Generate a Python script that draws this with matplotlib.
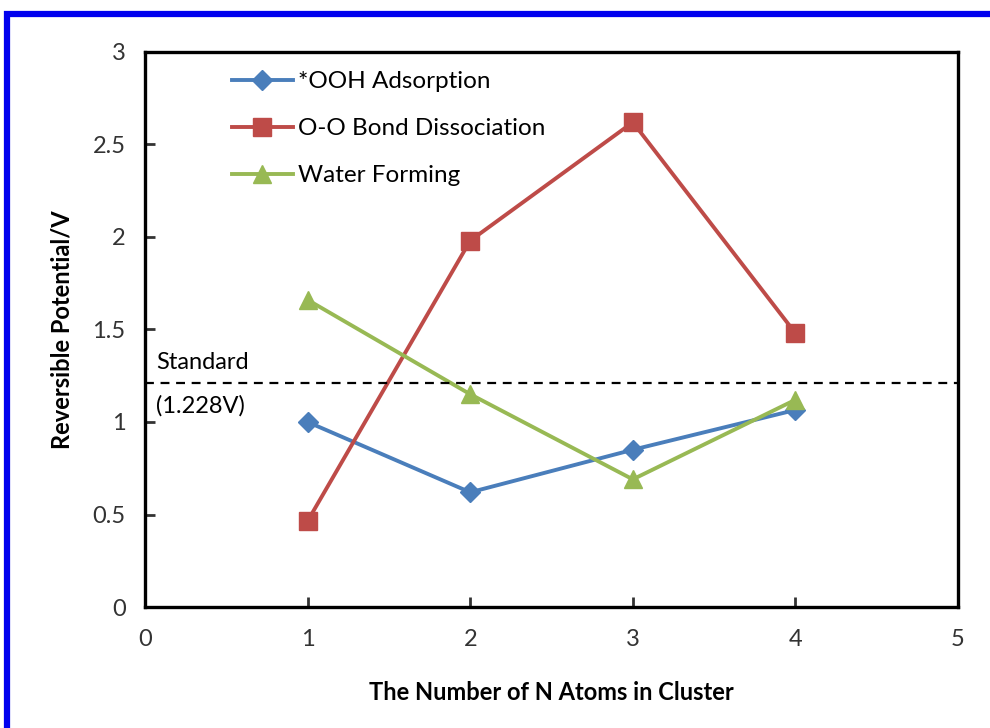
import matplotlib
matplotlib.use("Agg")
import matplotlib.pyplot as plt
from matplotlib.patches import Rectangle

plt.rcParams['font.family'] = ['Lato', 'DejaVu Sans']

n_atoms = [1, 2, 3, 4]
ooh = [1.0, 0.62, 0.85, 1.065]
oo_bond = [0.465, 1.98, 2.62, 1.48]
water = [1.66, 1.15, 0.69, 1.12]
standard = 1.21

fig = plt.figure(figsize=(9.9, 7.28), dpi=100)
ax = fig.add_axes([0.1465, 0.1662, 0.8212, 0.7624])

ax.plot(n_atoms, ooh, color='#4A7EBB', lw=2.8, marker='D', ms=10,
        label='*OOH Adsorption')
ax.plot(n_atoms, oo_bond, color='#BE4B48', lw=2.8, marker='s', ms=13,
        label='O-O Bond Dissociation')
ax.plot(n_atoms, water, color='#98B954', lw=2.8, marker='^', ms=13,
        label='Water Forming')
ax.axhline(standard, color='black', ls=(0, (4, 3)), lw=1.6)
ax.text(0.07, 1.32, 'Standard', fontsize=17, ha='left', va='center')
ax.text(0.07, 1.09, '(1.228V)', fontsize=17, ha='left', va='center')

ax.set_xlim(0, 5)
ax.set_ylim(0, 3)
ax.set_xticks(range(6))
ax.set_yticks([0, 0.5, 1, 1.5, 2, 2.5, 3])
ax.set_yticklabels(['0', '0.5', '1', '1.5', '2', '2.5', '3'])
ax.tick_params(direction='in', length=7, width=2, labelsize=17, pad=14,
               colors='#333333')
ax.tick_params(axis='x', pad=16)
for s in ax.spines.values():
    s.set_linewidth(2.4)

ax.set_xlabel('The Number of N Atoms in Cluster', fontsize=17,
              fontweight='bold', labelpad=22)
ax.set_ylabel('Reversible Potential/V', fontsize=17, fontweight='bold',
              labelpad=14)

ax.legend(loc='upper left', bbox_to_anchor=(0.08, 1.005), frameon=False,
          fontsize=17.5, handlelength=2.5, handletextpad=0.2,
          labelspacing=1.07)

fig.patches.append(Rectangle((0.0075, -0.05), 1.1, 1.031,
                             transform=fig.transFigure, fill=False,
                             edgecolor='#0000EE', lw=4.5, zorder=10))

fig.savefig('out.png', dpi=100)
